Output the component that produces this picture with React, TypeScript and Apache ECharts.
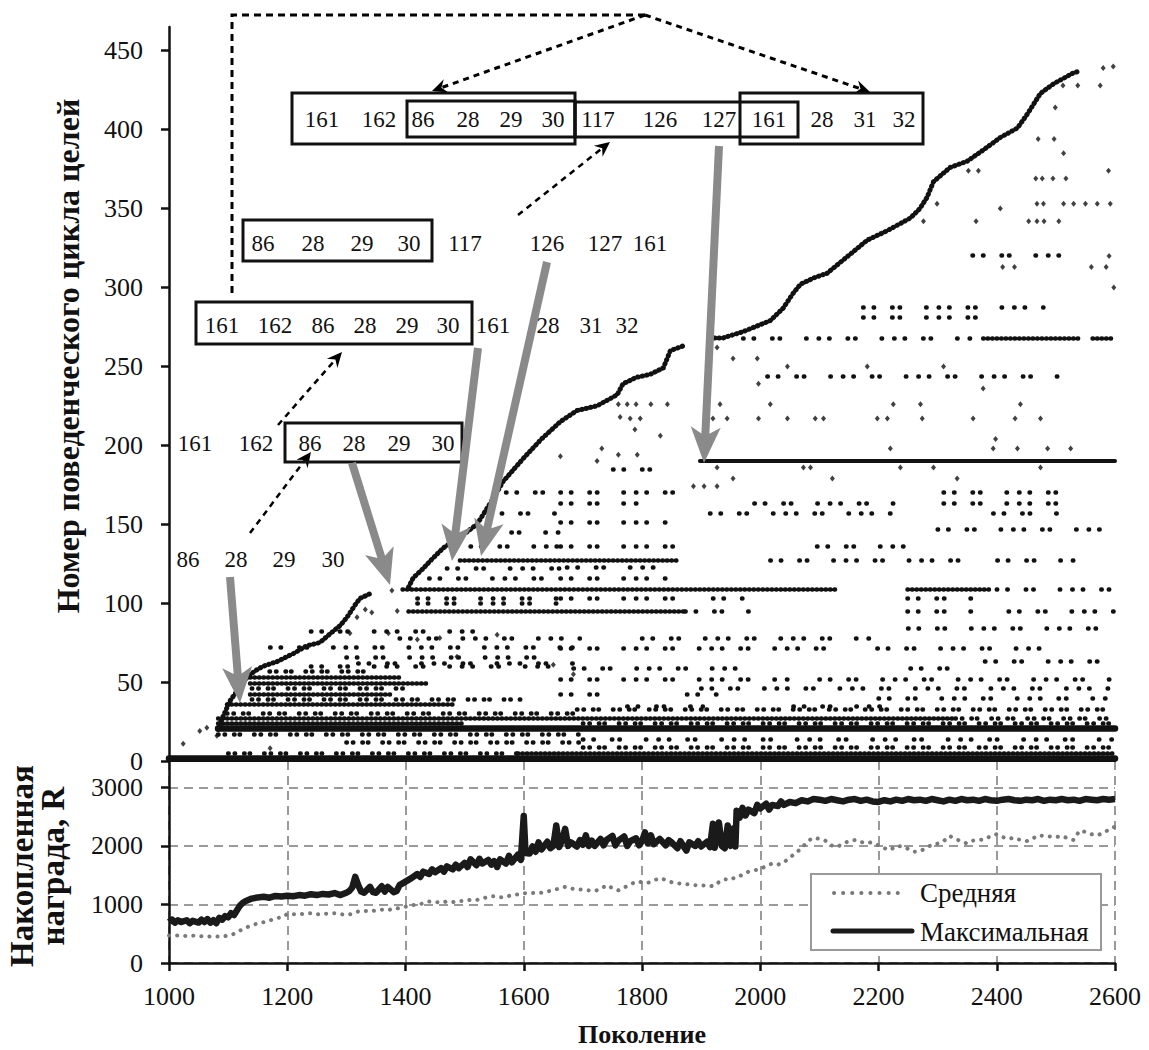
import React, { useEffect, useRef } from "react";
import * as echarts from "echarts";

const FONT = "Liberation Serif";

// ---------- axes ----------
const GEN_MIN = 1000;
const GEN_MAX = 2600;
const GEN_STEP = 200;
const GOAL_TICKS = [0, 50, 100, 150, 200, 250, 300, 350, 400, 450];
const REWARD_TICKS = [0, 1000, 2000, 3000];

// ---------- top chart: goal numbers per generation ----------
const frontierEarly: [number, number][] = [
  [1083, 20], [1090, 27], [1103, 38], [1120, 47], [1132, 53], [1145, 57], [1159, 60],
  [1183, 63], [1210, 68], [1233, 73], [1255, 75], [1277, 82], [1290, 86], [1301, 91],
  [1315, 99], [1323, 103], [1340, 106],
];
const frontierMiddle: [number, number][] = [
  [1405, 110], [1413, 116], [1430, 122], [1445, 128], [1464, 135], [1480, 139], [1500, 144],
  [1521, 150], [1548, 166], [1565, 177], [1600, 192], [1630, 204], [1662, 215], [1690, 222],
  [1724, 225], [1758, 232], [1768, 239], [1790, 243], [1814, 245], [1836, 249], [1848, 260],
  [1870, 263],
];
const frontierLate: [number, number][] = [
  [1915, 268], [1937, 268], [1971, 272], [2017, 279], [2039, 287], [2055, 296], [2068, 302],
  [2090, 306], [2113, 309], [2152, 321], [2181, 330], [2215, 336], [2254, 344], [2270, 350],
  [2282, 357], [2293, 367], [2321, 376], [2350, 380], [2377, 387], [2406, 395], [2435, 401],
  [2452, 410], [2474, 423], [2496, 429], [2530, 436], [2540, 437],
];

// rows: [goal, first generation, last generation]
const heavyRows: [number, number, number][] = [
  [1.5, 1000, 2600], [20.5, 1083, 2600],
];
const solidRows: [number, number, number][] = [
  [190, 1898, 2600],
];
const denseRows: [number, number, number][] = [
  [5, 1590, 2600], [27, 1083, 2330], [36, 1098, 1480], [42, 1137, 1380], [49, 1137, 1440],
  [53, 1137, 1390], [95, 1405, 1870], [109, 1395, 2130], [109, 2249, 2389], [127, 1492, 1862],
  [268, 2377, 2541], [268, 2562, 2600], [24, 1083, 1500],
];
const mediumRows: [number, number, number][] = [
  [17, 1083, 1700], [30, 1098, 1700], [46, 1140, 1400], [5, 1100, 1590], [27, 2330, 2600],
  [9, 1700, 2600], [33, 1690, 2600], [57, 1170, 1330], [39, 1140, 1600], [24, 1700, 2600],
  [12, 1300, 1700],
];
const sparseRows: [number, number, number][] = [
  [60, 1240, 1660], [66, 1300, 1660], [72, 1171, 1695], [78, 1390, 1695], [82, 1240, 1520],
  [62, 1320, 1695], [100, 1420, 1660], [103, 1420, 1660], [116, 1440, 1660], [122, 1470, 1660],
  [136, 1510, 1660], [145, 1530, 1660], [157, 1545, 1660], [170, 1570, 1660],
  [170, 1662, 1871], [170, 2310, 2508], [163.5, 1662, 1800], [163.5, 1990, 2225],
  [163.5, 2310, 2508], [157, 1915, 2225], [157, 2394, 2520], [151, 1662, 1844],
  [136, 1662, 1860], [136, 2096, 2254], [127, 2017, 2360], [127, 2401, 2530], [123, 1673, 1840],
  [116, 1662, 1845], [109, 2400, 2600], [103, 1662, 1873], [103, 1920, 1972], [103, 2249, 2360],
  [95, 1873, 2000], [95, 2249, 2360], [95, 2420, 2600], [71.6, 1662, 2141], [71.6, 2198, 2474],
  [59, 1684, 1978], [59, 2254, 2350], [52, 1662, 2046], [42.5, 1662, 1758], [42.5, 1876, 1932],
  [35, 1775, 1903], [35, 2056, 2203], [14, 1700, 2600], [244, 2012, 2520], [268, 1971, 2355],
  [287.7, 2174, 2479], [281, 2174, 2406], [320.6, 2359, 2513], [185, 1751, 1831],
  [63, 2380, 2600], [84, 2250, 2600], [147, 2300, 2600], [40, 2200, 2600], [46, 1900, 2600],
  [52, 2100, 2600], [78, 1800, 2200],
];
const isolatedGoals: [number, number][] = [
  [1024, 11], [1052, 19], [1064, 21], [1081, 16], [1171, 8], [1318, 91], [1332, 96], [1343, 94],
  [1386, 95], [1371, 81], [1306, 81], [1420, 77], [1458, 78], [1487, 66], [1555, 80], [1650, 61],
  [1684, 55], [1377, 108], [1932, 226], [2017, 226], [2225, 226], [2271, 226], [2440, 226],
  [1920, 217], [1944, 217], [1997, 217], [2046, 217], [2093, 217], [2107, 217], [2198, 217],
  [2215, 217], [2274, 217], [2360, 217], [2431, 217], [2474, 217], [2220, 198], [2394, 198],
  [2435, 198], [2486, 198], [2525, 198], [1927, 262], [1954, 255], [1995, 255], [2046, 250],
  [2181, 250], [2310, 250], [1997, 239], [2377, 236], [2398, 204], [1927, 186], [2073, 186],
  [2085, 186], [2237, 186], [2293, 186], [2474, 186], [1954, 179], [2122, 179], [2333, 179],
  [1887, 174], [1905, 174], [1927, 174], [2468, 353], [2479, 353], [2513, 353], [2530, 353],
  [2550, 353], [2570, 353], [2592, 353], [2454, 342], [2468, 342], [2480, 342], [2505, 342],
  [2466, 369], [2477, 369], [2495, 369], [2517, 369], [2470, 394], [2497, 394], [2513, 385],
  [2352, 374], [2369, 374], [2589, 374], [2499, 414], [2512, 428], [2537, 428], [2575, 428],
  [2580, 439], [2597, 440], [2365, 342], [2406, 350], [2276, 342], [2299, 353], [1760, 226],
  [1775, 226], [1790, 226], [1815, 226], [1843, 226], [1780, 217], [1797, 217], [1763, 218],
  [1788, 210], [1831, 206], [1732, 198], [1760, 194], [1792, 194], [1724, 190], [1662, 193],
  [2560, 313], [2585, 313], [2410, 313], [2430, 313], [2590, 320], [2598, 300],
];

// ---------- bottom chart: accumulated reward ----------
const meanReward: [number, number][] = [
  [1000, 470], [1015, 470], [1030, 460], [1045, 470], [1060, 450], [1075, 455], [1090, 450],
  [1100, 470], [1108, 490], [1115, 525], [1125, 580], [1135, 625], [1145, 660], [1155, 690],
  [1165, 700], [1175, 745], [1185, 770], [1195, 800], [1200, 840], [1210, 835], [1220, 830],
  [1230, 840], [1240, 850], [1250, 830], [1260, 840], [1270, 845], [1280, 850], [1290, 835],
  [1300, 820], [1310, 840], [1320, 880], [1330, 890], [1340, 880], [1350, 900], [1360, 910],
  [1370, 900], [1380, 930], [1390, 935], [1400, 960], [1410, 990], [1420, 990], [1430, 1020],
  [1440, 1050], [1450, 1045], [1460, 1030], [1470, 1050], [1480, 1040], [1490, 1060],
  [1500, 1060], [1510, 1080], [1520, 1075], [1530, 1100], [1540, 1130], [1550, 1140],
  [1560, 1120], [1570, 1130], [1580, 1160], [1590, 1170], [1600, 1190], [1610, 1200],
  [1620, 1190], [1630, 1200], [1640, 1220], [1650, 1250], [1660, 1270], [1670, 1300],
  [1680, 1270], [1690, 1260], [1700, 1250], [1710, 1240], [1720, 1230], [1730, 1260],
  [1740, 1330], [1750, 1280], [1760, 1240], [1770, 1290], [1780, 1340], [1790, 1390],
  [1800, 1380], [1810, 1370], [1820, 1410], [1830, 1450], [1840, 1420], [1850, 1380],
  [1860, 1360], [1870, 1350], [1880, 1340], [1890, 1330], [1900, 1320], [1910, 1330],
  [1920, 1310], [1930, 1380], [1940, 1430], [1950, 1420], [1960, 1480], [1970, 1500],
  [1980, 1560], [1990, 1580], [2000, 1610], [2010, 1650], [2020, 1700], [2030, 1680],
  [2040, 1720], [2050, 1800], [2060, 1880], [2070, 1960], [2080, 2080], [2090, 2140],
  [2100, 2120], [2110, 2090], [2120, 2010], [2130, 1980], [2140, 2040], [2150, 2080],
  [2160, 2100], [2170, 2060], [2180, 2070], [2190, 2050], [2200, 2010], [2210, 1960],
  [2220, 1930], [2230, 2000], [2240, 1990], [2250, 1950], [2260, 1900], [2270, 1910],
  [2280, 1960], [2290, 2020], [2300, 2040], [2310, 2080], [2320, 2170], [2330, 2120],
  [2340, 2080], [2350, 2040], [2360, 2090], [2370, 2100], [2380, 2110], [2390, 2170],
  [2400, 2200], [2410, 2150], [2420, 2120], [2430, 2140], [2440, 2100], [2450, 2080],
  [2460, 2120], [2470, 2180], [2480, 2170], [2490, 2160], [2500, 2150], [2510, 2170],
  [2520, 2130], [2530, 2100], [2540, 2260], [2550, 2240], [2560, 2200], [2570, 2180],
  [2580, 2220], [2590, 2280], [2600, 2330],
];
const maxReward: [number, number][] = [
  [1000, 700], [1005, 740], [1010, 690], [1015, 730], [1020, 700], [1030, 730], [1035, 680],
  [1040, 720], [1050, 690], [1055, 740], [1060, 700], [1065, 750], [1070, 690], [1075, 730],
  [1080, 680], [1085, 770], [1090, 740], [1095, 800], [1100, 780], [1105, 850], [1110, 820],
  [1115, 900], [1120, 980], [1125, 1030], [1130, 1060], [1140, 1100], [1150, 1120],
  [1160, 1130], [1170, 1115], [1180, 1145], [1190, 1135], [1200, 1150], [1210, 1140],
  [1220, 1160], [1230, 1150], [1240, 1175], [1250, 1160], [1260, 1180], [1270, 1170],
  [1280, 1195], [1290, 1160], [1300, 1200], [1305, 1230], [1310, 1290], [1315, 1470],
  [1320, 1330], [1325, 1220], [1330, 1200], [1340, 1300], [1345, 1210], [1350, 1200],
  [1360, 1310], [1365, 1220], [1370, 1300], [1380, 1210], [1385, 1230], [1390, 1330],
  [1400, 1390], [1410, 1450], [1420, 1520], [1425, 1470], [1430, 1560], [1440, 1520],
  [1445, 1600], [1450, 1550], [1460, 1620], [1465, 1560], [1470, 1650], [1480, 1600],
  [1485, 1680], [1490, 1620], [1500, 1710], [1505, 1640], [1510, 1770], [1520, 1670],
  [1525, 1780], [1530, 1700], [1540, 1760], [1545, 1680], [1550, 1740], [1555, 1640],
  [1560, 1770], [1570, 1700], [1575, 1830], [1580, 1720], [1590, 1850], [1595, 1760],
  [1600, 2510], [1603, 1880], [1610, 1870], [1615, 1990], [1620, 1900], [1625, 2060],
  [1630, 1940], [1640, 2070], [1645, 1960], [1650, 2000], [1655, 2350], [1660, 1980],
  [1665, 2100], [1670, 2290], [1675, 2000], [1680, 2060], [1690, 1990], [1695, 2100],
  [1700, 2020], [1705, 2180], [1710, 2000], [1715, 2090], [1720, 2000], [1730, 2120],
  [1735, 2010], [1740, 2100], [1750, 2170], [1755, 2010], [1760, 2090], [1770, 2160],
  [1775, 2000], [1780, 2080], [1790, 2130], [1795, 2010], [1800, 2080], [1805, 2230],
  [1810, 2040], [1815, 2180], [1820, 2030], [1830, 2120], [1840, 2010], [1845, 2100],
  [1850, 2060], [1860, 1960], [1865, 2080], [1870, 2000], [1875, 1920], [1880, 2060],
  [1890, 2000], [1895, 2080], [1900, 1990], [1910, 2070], [1915, 1980], [1920, 2380],
  [1923, 1970], [1930, 2400], [1935, 2000], [1940, 1960], [1945, 2350], [1950, 2000],
  [1955, 2300], [1958, 1990], [1960, 2600], [1965, 2480], [1970, 2650], [1975, 2520],
  [1980, 2620], [1990, 2560], [1995, 2700], [2000, 2640], [2010, 2720], [2015, 2620],
  [2020, 2700], [2030, 2680], [2035, 2760], [2040, 2700], [2050, 2750], [2060, 2730],
  [2070, 2780], [2080, 2760], [2090, 2800], [2100, 2790], [2110, 2770], [2120, 2800],
  [2130, 2780], [2140, 2760], [2150, 2790], [2160, 2800], [2170, 2770], [2180, 2790],
  [2190, 2760], [2200, 2750], [2210, 2780], [2220, 2760], [2230, 2790], [2240, 2770],
  [2250, 2800], [2260, 2780], [2270, 2790], [2280, 2770], [2290, 2800], [2300, 2780],
  [2310, 2760], [2320, 2790], [2330, 2770], [2340, 2800], [2350, 2780], [2360, 2790],
  [2370, 2770], [2380, 2800], [2390, 2780], [2400, 2770], [2410, 2790], [2420, 2800],
  [2430, 2780], [2440, 2770], [2450, 2790], [2460, 2780], [2470, 2800], [2480, 2770],
  [2490, 2790], [2500, 2780], [2510, 2800], [2520, 2780], [2530, 2790], [2540, 2770],
  [2550, 2800], [2560, 2790], [2570, 2780], [2580, 2800], [2590, 2790], [2600, 2800],
];

// ---------- annotation texts ----------
const LEGEND_MEAN = "Средняя";
const LEGEND_MAX = "Максимальная";
const X_TITLE = "Поколение";
const Y_TITLE_TOP = "Номер поведенческого цикла целей";
const Y_TITLE_BOTTOM = "Накопленная\nнаграда, R";

const row1Labels = ["161", "162", "86", "28", "29", "30", "117", "126", "127", "161", "28", "31", "32"];
const row2Labels = ["86", "28", "29", "30", "117", "126", "127", "161"];
const row3Labels = ["161", "162", "86", "28", "29", "30", "161", "28", "31", "32"];
const row4Labels = ["161", "162", "86", "28", "29", "30"];
const row5Labels = ["86", "28", "29", "30"];

const row1X = [322, 379, 423, 468, 511, 553, 598, 660, 719, 769, 822, 865, 904];
const row2X = [263, 313, 362, 409, 465, 547, 605, 650];
const row3X = [222, 275, 323, 365, 407, 448, 493, 548, 591, 627];
const row4X = [195, 256, 310, 354, 399, 443];
const row5X = [188, 236, 284, 333];

function arrowPolygon(x1: number, y1: number, x2: number, y2: number, sh: number, hl: number, hh: number, notch: number) {
  const dx = x2 - x1, dy = y2 - y1;
  const L = Math.hypot(dx, dy);
  const ux = dx / L, uy = dy / L;
  const nx = -uy, ny = ux;
  const bx = x2 - ux * hl, by = y2 - uy * hl;
  const mx = x2 - ux * (hl - notch), my = y2 - uy * (hl - notch);
  const k = sh / hh;
  const jx = mx - ux * notch * k, jy = my - uy * notch * k;
  return [
    [x1 + nx * sh, y1 + ny * sh],
    [jx + nx * sh, jy + ny * sh],
    [bx + nx * hh, by + ny * hh],
    [x2, y2],
    [bx - nx * hh, by - ny * hh],
    [jx - nx * sh, jy - ny * sh],
    [x1 - nx * sh, y1 - ny * sh],
  ];
}

function grayArrow(x1: number, y1: number, x2: number, y2: number) {
  return {
    type: "polygon",
    z: 100,
    shape: { points: arrowPolygon(x1, y1, x2, y2, 4, 36, 15, 9) },
    style: { fill: "#8a8a8a" },
  };
}

function dashedArrow(x1: number, y1: number, x2: number, y2: number, w = 2.5) {
  const dx = x2 - x1, dy = y2 - y1;
  const L = Math.hypot(dx, dy);
  const ux = dx / L, uy = dy / L;
  const nx = -uy, ny = ux;
  const ex = x2 - ux * 10, ey = y2 - uy * 10;
  const bx = x2 - ux * 15, by = y2 - uy * 15;
  return [
    {
      type: "line",
      z: 100,
      shape: { x1, y1, x2: ex, y2: ey },
      style: { stroke: "#000", lineWidth: w, lineDash: [6, 5] },
    },
    {
      type: "polygon",
      z: 100,
      shape: { points: [[bx + nx * 7, by + ny * 7], [x2, y2], [bx - nx * 7, by - ny * 7], [ex, ey]] },
      style: { fill: "#000" },
    },
  ];
}

function textRow(labels: string[], xs: number[], y: number) {
  return labels.map((t, i) => ({
    type: "text",
    z: 100,
    x: xs[i],
    y,
    style: { text: t, fontSize: 23, fontFamily: FONT, fill: "#111", align: "center", verticalAlign: "middle" },
  }));
}

function box(x1: number, y1: number, x2: number, y2: number) {
  return {
    type: "rect",
    z: 100,
    shape: { x: x1, y: y1, width: x2 - x1, height: y2 - y1 },
    style: { fill: "none", stroke: "#111", lineWidth: 3 },
  };
}

function rowsToLines(rows: [number, number, number][]) {
  return rows.map(([g, a, b]) => ({ coords: [[a, g], [b, g]] }));
}

function linesSeries(data: any[], width: number, dash: any, polyline = false) {
  return {
    type: "lines",
    coordinateSystem: "cartesian2d",
    xAxisIndex: 0,
    yAxisIndex: 0,
    polyline,
    silent: true,
    z: 3,
    lineStyle: { color: "#111", width, type: dash, cap: "round", opacity: 1, curveness: 0 },
    data,
  };
}

function buildOption() {
  const axisLabelStyle = { fontFamily: FONT, fontSize: 26, fontWeight: "normal", color: "#111", formatter: (v: number) => String(v) };
  const graphics: any[] = [];

  graphics.push({
    type: "polyline",
    z: 100,
    shape: { points: [[232, 293], [232, 15], [645, 15]] },
    style: { stroke: "#000", lineWidth: 3, lineDash: [7, 5], fill: "none" },
  });
  graphics.push(...dashedArrow(645, 15, 432, 91, 3));
  graphics.push(...dashedArrow(645, 15, 870, 92, 3));
  graphics.push(...dashedArrow(250, 533, 311, 452));
  graphics.push(...dashedArrow(278, 425, 342, 352));
  graphics.push(...dashedArrow(518, 215, 610, 142));

  graphics.push(box(292, 93, 575, 144));
  graphics.push(box(407, 101, 575, 137));
  graphics.push(box(575, 102, 798, 137));
  graphics.push(box(740, 93, 923, 144));
  graphics.push(box(243, 220, 432, 261));
  graphics.push(box(196, 302, 472, 344));
  graphics.push(box(285, 423, 462, 462));

  graphics.push(...textRow(row1Labels, row1X, 119));
  graphics.push(...textRow(row2Labels, row2X, 243));
  graphics.push(...textRow(row3Labels, row3X, 325));
  graphics.push(...textRow(row4Labels, row4X, 443));
  graphics.push(...textRow(row5Labels, row5X, 559));

  graphics.push(grayArrow(230, 577, 240, 703));
  graphics.push(grayArrow(352, 463, 390, 585));
  graphics.push(grayArrow(478, 348, 452, 561));
  graphics.push(grayArrow(547, 262, 481, 556));
  graphics.push(grayArrow(719, 146, 704, 463));

  graphics.push({
    type: "text",
    z: 100,
    x: 68,
    y: 356,
    rotation: Math.PI / 2,
    style: { text: Y_TITLE_TOP, fontSize: 32, fontWeight: "bold", fontFamily: FONT, fill: "#111", align: "center", verticalAlign: "middle" },
  });
  graphics.push({
    type: "text",
    z: 100,
    x: 37,
    y: 866,
    rotation: Math.PI / 2,
    style: { text: Y_TITLE_BOTTOM, fontSize: 33, fontWeight: "bold", fontFamily: FONT, fill: "#111", align: "center", verticalAlign: "middle", lineHeight: 31 },
  });
  graphics.push({
    type: "text",
    z: 100,
    x: 642,
    y: 1034,
    style: { text: X_TITLE, fontSize: 26, fontWeight: "bold", fontFamily: FONT, fill: "#111", align: "center", verticalAlign: "middle" },
  });

  graphics.push({
    type: "rect",
    z: 100,
    shape: { x: 811, y: 874, width: 290, height: 76 },
    style: { fill: "#fff", stroke: "#9a9a9a", lineWidth: 2 },
  });
  graphics.push({
    type: "line",
    z: 101,
    shape: { x1: 834, y1: 893, x2: 906, y2: 893 },
    style: { stroke: "#777", lineWidth: 4, lineDash: [0.1, 9], lineCap: "round" },
  });
  graphics.push({
    type: "line",
    z: 101,
    shape: { x1: 833, y1: 931, x2: 912, y2: 931 },
    style: { stroke: "#1a1a1a", lineWidth: 5, lineCap: "round" },
  });
  graphics.push({
    type: "text",
    z: 101,
    x: 920,
    y: 893,
    style: { text: LEGEND_MEAN, fontSize: 27, fontFamily: FONT, fill: "#111", align: "left", verticalAlign: "middle" },
  });
  graphics.push({
    type: "text",
    z: 101,
    x: 920,
    y: 932,
    style: { text: LEGEND_MAX, fontSize: 27, fontFamily: FONT, fill: "#111", align: "left", verticalAlign: "middle" },
  });

  return {
    animation: false,
    backgroundColor: "#fff",
    textStyle: { fontFamily: FONT },
    grid: [
      { left: 169, width: 946, top: 27, height: 734 },
      { left: 169, width: 946, top: 761, height: 202 },
    ],
    xAxis: [
      {
        type: "value", gridIndex: 0, min: GEN_MIN, max: GEN_MAX, interval: GEN_STEP,
        axisLine: { show: true, onZero: false, lineStyle: { color: "#111", width: 2 } },
        axisTick: { show: false }, axisLabel: { show: false }, splitLine: { show: false },
      },
      {
        type: "value", gridIndex: 1, min: GEN_MIN, max: GEN_MAX, interval: GEN_STEP,
        axisLine: { show: true, onZero: false, lineStyle: { color: "#111", width: 2.5 } },
        axisTick: { show: true, inside: false, length: 8, lineStyle: { color: "#111", width: 2.5 } },
        axisLabel: { ...axisLabelStyle, margin: 20 },
        splitLine: { show: true, lineStyle: { color: "#9a9a9a", width: 2, type: [9, 6] } },
      },
    ],
    yAxis: [
      {
        type: "value", gridIndex: 0, min: 0, max: 465, interval: 50,
        axisLine: { show: true, onZero: false, lineStyle: { color: "#111", width: 2.5 } },
        axisTick: { show: true, inside: false, length: 8, lineStyle: { color: "#111", width: 2.5 }, customValues: GOAL_TICKS },
        axisLabel: { ...axisLabelStyle, margin: 26, customValues: GOAL_TICKS },
        splitLine: { show: false },
      },
      {
        type: "value", gridIndex: 1, min: 0, max: 3450, interval: 1000,
        axisLine: { show: true, onZero: false, lineStyle: { color: "#111", width: 2.5 } },
        axisTick: { show: true, inside: false, length: 8, lineStyle: { color: "#111", width: 2.5 }, customValues: REWARD_TICKS },
        axisLabel: { ...axisLabelStyle, margin: 26, customValues: REWARD_TICKS },
        splitLine: { show: true, lineStyle: { color: "#9a9a9a", width: 2, type: [9, 6] } },
      },
    ],
    series: [
      linesSeries(rowsToLines(heavyRows), 6.5, "solid"),
      linesSeries(rowsToLines(solidRows), 4, "solid"),
      linesSeries(rowsToLines(denseRows), 4.5, [0.5, 4]),
      linesSeries(rowsToLines(mediumRows), 4.5, [0.5, 6, 0.5, 9, 0.5, 5, 0.5, 14]),
      linesSeries(rowsToLines(sparseRows), 4.5, [0.5, 10, 0.5, 18, 0.5, 7, 0.5, 26, 0.5, 12]),
      linesSeries(
        [{ coords: frontierEarly }, { coords: frontierMiddle }, { coords: frontierLate }],
        5,
        [0.5, 4],
        true,
      ),
      {
        type: "scatter",
        xAxisIndex: 0,
        yAxisIndex: 0,
        symbol: "diamond",
        symbolSize: [5, 6],
        itemStyle: { color: "#111" },
        silent: true,
        z: 4,
        data: isolatedGoals,
      },
      {
        type: "line",
        name: LEGEND_MEAN,
        xAxisIndex: 1,
        yAxisIndex: 1,
        showSymbol: false,
        symbol: "none",
        silent: true,
        z: 5,
        lineStyle: { color: "#7a7a7a", width: 4, type: [0.1, 8], cap: "round" },
        data: meanReward,
      },
      {
        type: "line",
        name: LEGEND_MAX,
        xAxisIndex: 1,
        yAxisIndex: 1,
        showSymbol: false,
        symbol: "none",
        silent: true,
        z: 6,
        lineStyle: { color: "#1a1a1a", width: 6.5, join: "round" },
        data: maxReward,
      },
    ],
    graphic: graphics,
  };
}

export default function App() {
  const ref = useRef<HTMLDivElement>(null);
  useEffect(() => {
    if (!ref.current) return;
    const chart = echarts.init(ref.current, null, { renderer: "svg" });
    chart.setOption(buildOption() as any);
    return () => chart.dispose();
  }, []);
  return (
    <div
      ref={ref}
      style={{ position: "fixed", left: 0, top: 0, width: 1149, height: 1050, background: "#fff" }}
    />
  );
}
